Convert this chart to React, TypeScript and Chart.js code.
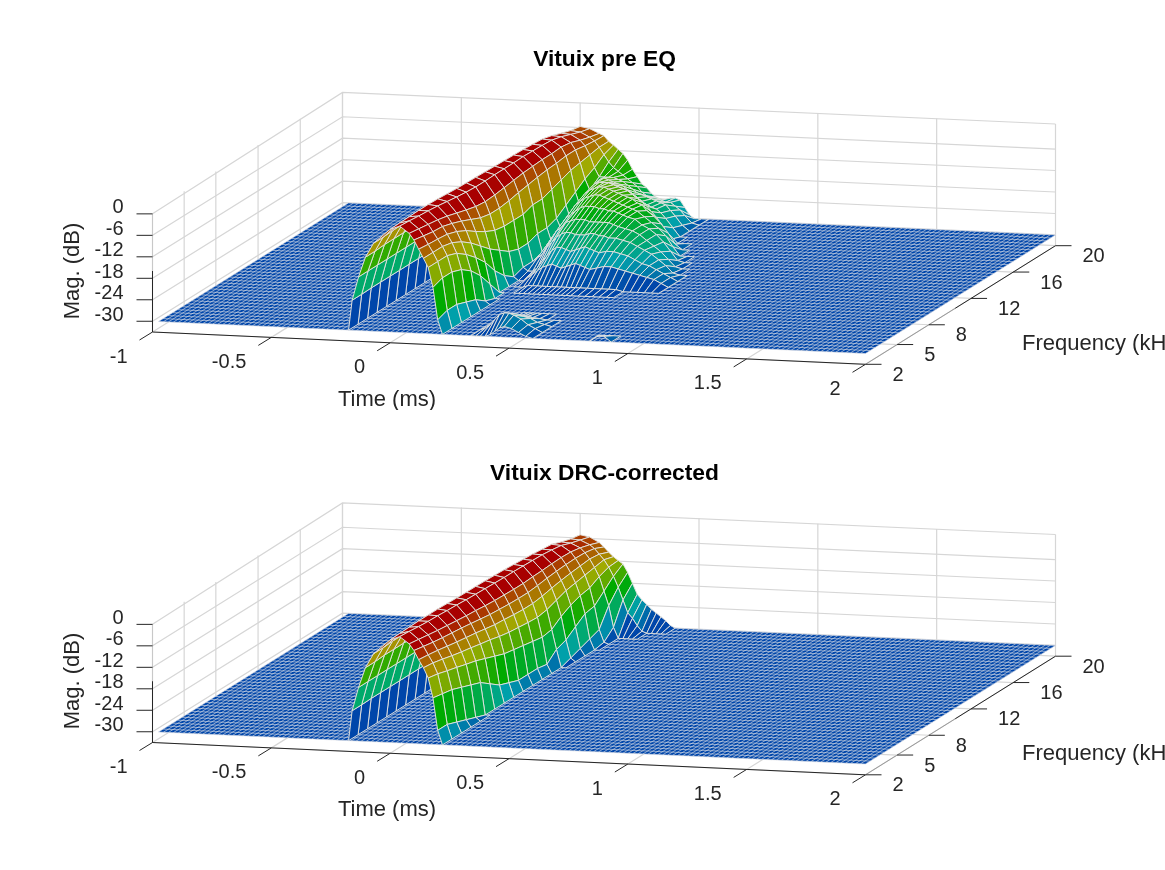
import React, { useEffect, useRef } from "react";
import { Chart, registerables } from "chart.js";

Chart.register(...registerables);

const timeTicks = [-1, -0.5, 0, 0.5, 1, 1.5, 2];
const freqTicks = [2, 5, 8, 12, 16, 20];
const magTicks = [0, -6, -12, -18, -24, -30];
const floorDb = -30;
const boxBottomDb = -33;

const tGrid = [-0.175, -0.16, -0.133, -0.104, -0.07, 0, 0.02, 0.04, 0.06, 0.08, 0.1, 0.12, 0.14, 0.16, 0.18, 0.2, 0.22, 0.24,
  0.26, 0.28, 0.3, 0.32, 0.34, 0.36, 0.38, 0.4, 0.42, 0.44, 0.46, 0.48, 0.51, 0.54, 0.57, 0.6, 0.63, 0.66, 0.69, 0.72, 0.75, 0.78, 0.81, 0.84, 0.87, 0.9, 0.93, 0.96];
const fGrid = [2, 2.9, 3.8, 4.7, 5.6, 6.5, 7.4, 8.3, 9.2, 10.1, 11, 11.9, 12.8, 13.7, 14.6, 15.5, 16.4, 17.3, 18.2, 19.1, 20];
// The mesh is coarser across the crest than on the flanks: these tGrid columns carry no mesh line.
const unmeshedTimes = [0.02, 0.06];

// Rows follow fGrid, columns follow tGrid; a row that stops early sits on the -30 dB floor afterwards.
const preEqDb = [
  [-30,-21.6,-15,-9.4,-5.4,-1.3,-.3,-.3,-.8,-2.2,-4,-6.5,-9,-11.5,-17,-26,-30,-30,-30,-30,-30,-30,-30,-30,-30,-30,-29.5,-28.5,-27.5,-27,-27.5,-28.5,-29.5,-30,-30,-30,-30,-30,-30,-30,-30,-30,-28.5,-28.5,-30,-30],
  [-30,-21.6,-15,-9.4,-5.4,-1.2,-.3,-.5,-1.2,-2.6,-4.5,-6.8,-9,-11.5,-16,-25,-30,-30,-30,-30,-30,-30,-30,-29.5,-28.5,-27,-25.5,-25,-25,-25.5,-26.5,-28,-29,-30],
  [-30,-21.5,-15,-9.2,-5.2,-1.1,-.4,-.8,-1.6,-3,-5,-7,-9,-11.5,-16,-25,-30,-30,-30,-30,-30,-30,-30,-30,-29.5,-28.5,-27.5,-27,-27,-27.5,-28,-29,-29.5,-30],
  [-30,-21.5,-15,-9.2,-5.2,-1,-.5,-1,-2,-3.4,-5.2,-7.3,-9.6,-12.5,-17,-26,-30,-30,-30,-30,-30,-30,-30,-30,-30,-30,-29.5,-29.2,-29.2,-29.5,-29.7,-30],
  [-30,-21.5,-15,-9.2,-5.2,-1,-.7,-1.3,-2.4,-4,-6,-8.2,-11,-14.5,-19,-27,-30],
  [-30,-21.5,-15,-9.2,-5.2,-1.1,-1,-1.7,-2.9,-4.8,-7,-9.6,-13,-17,-22,-29,-30],
  [-30,-21.5,-15,-9.2,-5.2,-1.3,-1.3,-2.1,-3.5,-5.6,-8.2,-11.5,-15.5,-20,-26,-30],
  [-30,-21.5,-15,-9.4,-5.4,-1.5,-1.6,-2.4,-4,-6.3,-9.4,-13.2,-18,-24,-30],
  [-30,-21.5,-15,-9.4,-5.4,-1.6,-1.8,-2.6,-4.2,-6.6,-10,-14.5,-20,-27,-30,-30,-30,-30,-29.5,-29.5,-29.5,-29.5,-29.5,-29.5,-29.5,-29.5,-29.5,-29.5,-29.5,-29.5,-29.5,-29.5,-29.5,-29.5,-29.5,-30],
  [-30,-21.5,-15,-9.6,-5.6,-1.7,-1.8,-2.6,-4,-6.4,-10,-15,-22,-29,-30,-30,-29,-28,-27,-26,-25.5,-25,-25.5,-26,-25.5,-25,-24.5,-25,-25.5,-26,-25.5,-25,-25,-25.5,-26,-26.5,-27,-27.5,-28,-29,-30],
  [-30,-21.5,-15,-9.6,-5.6,-1.8,-1.8,-2.5,-3.8,-6,-9.6,-15,-23,-28,-29,-29,-28,-26,-24.5,-23,-22,-22,-22.5,-23,-22.5,-22,-21.5,-22,-22.5,-23,-22.5,-22.5,-23,-23.5,-24.5,-25.5,-26,-27,-28,-29,-30],
  [-30,-21.5,-15,-9.6,-5.8,-1.9,-1.9,-2.5,-3.6,-5.6,-9,-15,-23,-28,-27,-26,-24,-22.5,-21,-20,-19.5,-19.5,-20,-20,-20,-19.5,-19.5,-20,-20,-20.5,-20.5,-21,-21.5,-22.5,-23.5,-24.5,-26,-27.5,-29.5,-30],
  [-30,-21.5,-15,-9.8,-5.8,-2,-2,-2.5,-3.5,-5.2,-8.5,-14,-22,-27,-25,-23,-21,-20,-18.5,-18,-17.5,-17.5,-17.5,-18,-18,-18,-18,-18,-18.5,-19,-19.5,-20,-21,-22.5,-24,-25.5,-27.5,-29.5,-30],
  [-30,-21.5,-15,-9.8,-6,-2.1,-2,-2.4,-3.3,-5,-8,-14,-22,-26,-23,-21,-19,-18,-17,-16,-15.5,-15.5,-15.5,-16,-16,-16.5,-16.5,-17,-17.5,-18,-18.5,-20,-21,-22.5,-24.5,-27,-29.5,-30],
  [-30,-21.5,-15.5,-10,-6,-2.2,-2.1,-2.5,-3.2,-4.8,-7.6,-13,-21,-24,-21,-19,-17,-16,-15,-14.5,-14,-14,-14.5,-15,-15.5,-16,-16.5,-17,-17.5,-18,-19.5,-21,-22.5,-24.5,-27.5,-30],
  [-30,-22,-16,-10.5,-6.5,-2.4,-2.2,-2.6,-3.3,-4.8,-7.4,-12,-19,-23,-20,-17.5,-15.5,-14.5,-14,-13.5,-13.5,-14,-14.5,-15,-15.5,-16,-16.5,-17.5,-18,-19.5,-21,-23,-25.5,-28.5,-30],
  [-30,-22,-16.5,-11,-7,-2.6,-2.4,-2.8,-3.4,-4.6,-7,-11,-17,-21,-18,-16,-14.5,-14,-14,-14,-14.5,-15,-15.5,-16,-17,-18,-19,-20,-21.5,-23,-25.5,-29,-30],
  [-30,-22,-16.5,-11.5,-7.5,-3.3,-3.2,-3.5,-4,-5,-7,-10.5,-15,-18,-16.5,-15,-14.5,-15,-15.5,-16,-16.5,-17.5,-18.5,-19.5,-20.5,-21.5,-22,-22.5,-23.5,-25,-27.5,-30],
  [-30,-22.5,-17,-12,-8,-4.3,-4.2,-4.5,-5,-6,-7.5,-10,-13.5,-16,-16,-16,-16,-16.5,-17,-18,-19,-20,-20.5,-21,-21.5,-22,-22.5,-23,-24.5,-26,-28.5,-30],
  [-30,-22.5,-17,-12,-8.5,-5.2,-5.2,-5.5,-6,-6.8,-7.8,-9.5,-11.5,-13.5,-15,-16,-17,-18,-19,-20,-21.5,-22.5,-23,-23,-23.5,-24,-24,-25,-26,-27.5,-29.5,-30],
  [-30,-22.5,-17,-12.5,-9,-5.7,-5.8,-6.2,-6.8,-7.4,-8,-9.5,-10.5,-11.6,-12.7,-14.5,-17,-19,-21,-22,-23.5,-24.5,-25,-25,-24.6,-24.5,-25,-27,-29,-30],
];

const drcDb = [
  [-30,-21.6,-15,-9.4,-5.4,-1.3,-.3,-.3,-.8,-2.2,-4,-6.5,-8.7,-11.5,-17,-26,-30],
  [-30,-21.6,-15,-9.4,-5.4,-1.2,-.3,-.5,-1.2,-2.6,-4.5,-6.8,-9,-12,-17.5,-26,-30],
  [-30,-21.5,-15,-9.2,-5.2,-1.1,-.4,-.8,-1.6,-3,-5,-7.2,-9.6,-12.8,-18,-27,-30],
  [-30,-21.5,-15,-9.2,-5.2,-1,-.5,-1,-1.9,-3.4,-5.4,-7.7,-10.3,-13.5,-19,-28,-30],
  [-30,-21.5,-15,-9.2,-5.2,-1,-.6,-1.1,-2.1,-3.7,-5.7,-8.2,-10.9,-14.3,-20,-29,-30],
  [-30,-21.5,-15,-9.2,-5.2,-1,-.7,-1.3,-2.3,-4,-6,-8.6,-11.4,-15,-21,-30],
  [-30,-21.5,-15,-9.2,-5.2,-1.1,-.9,-1.4,-2.5,-4.3,-6.4,-9,-12,-16,-23,-30],
  [-30,-21.5,-15,-9.2,-5.2,-1.2,-1,-1.6,-2.7,-4.5,-6.8,-9.5,-12.5,-17,-25,-30],
  [-30,-21.5,-15,-9.4,-5.4,-1.3,-1.1,-1.7,-2.9,-4.8,-7.2,-10,-13.2,-18,-26,-30],
  [-30,-21.5,-15,-9.4,-5.4,-1.3,-1.2,-1.8,-3,-5,-7.4,-10.2,-13.7,-18.5,-27,-30],
  [-30,-21.5,-15,-9.4,-5.4,-1.4,-1.3,-1.9,-3.1,-5.1,-7.6,-10.5,-14,-19,-27,-30],
  [-30,-21.5,-15,-9.4,-5.6,-1.5,-1.4,-2,-3.2,-5.2,-7.7,-10.7,-14.3,-19.5,-27,-30],
  [-30,-21.5,-15,-9.6,-5.6,-1.6,-1.5,-2,-3.2,-5.2,-7.7,-10.7,-14.5,-20,-27.5,-30],
  [-30,-21.5,-15,-9.6,-5.8,-1.8,-1.6,-2.1,-3.2,-5,-7.4,-10.3,-14,-19.5,-25,-30],
  [-30,-21.5,-15.5,-10,-6,-2,-1.8,-2.2,-3.2,-4.9,-7,-9.7,-13,-17.5,-24,-29,-30],
  [-30,-22,-16,-10.5,-6.5,-2.2,-2,-2.3,-3.2,-4.7,-6.7,-9.2,-12,-16,-22,-28,-30],
  [-30,-22,-16.5,-11,-7,-2.5,-2.3,-2.6,-3.3,-4.6,-6.5,-8.8,-11.5,-15,-20,-27,-30],
  [-30,-22,-16.5,-11.5,-7.5,-2.8,-2.7,-3,-3.6,-4.7,-6.4,-8.5,-11,-14.5,-19.5,-26,-29.5,-30],
  [-30,-22.5,-17,-12,-8,-3.8,-3.7,-4,-4.5,-5.2,-6.5,-8.2,-10.5,-13,-17,-21,-27,-30],
  [-30,-22.5,-17,-12,-8.5,-4.6,-4.5,-4.8,-5.3,-6,-7,-8.5,-10,-12,-14.5,-17.5,-21,-24.5,-26,-28,-29.5,-30],
  [-30,-22.5,-17,-12.5,-9,-5.1,-5.2,-5.6,-6.2,-7,-8.2,-9.6,-10.8,-11.8,-12.7,-15,-18,-21,-22.5,-23.7,-25,-26,-27,-28,-29.3,-30],
];

const colorStopsDb = [-30, -25, -21.5, -17, -13.5, -10.5, -8, -5, -2.5];
const colorStops = [[0,70,170],[0,160,170],[0,170,105],[0,170,0],[85,170,0],[160,170,0],[170,125,0],[170,70,0],[168,0,0]];

const FONT = "'Liberation Sans', Arial, sans-serif";
const TEXT = "#262626";
const GRID = "#d6d6d6";
const WIDTH = 1165;
const PAD_LEFT = 44;

function colorFor(db: number) {
  const v = Math.max(colorStopsDb[0], Math.min(colorStopsDb[colorStopsDb.length - 1], db));
  let k = 0;
  while (k < colorStopsDb.length - 2 && v > colorStopsDb[k + 1]) k++;
  const a = (v - colorStopsDb[k]) / (colorStopsDb[k + 1] - colorStopsDb[k]);
  const c = colorStops[k].map((s, n) => Math.round(s + (colorStops[k + 1][n] - s) * a));
  return `rgb(${c[0]},${c[1]},${c[2]})`;
}

type Pt = { x: number; y: number };

function makeProjector(originY: number) {
  const pxPerMs = 713 / 3;
  const riseNyPerMs = 32.3 / 3;
  const pxPerKhz = 190 / 18;
  const liftPerKhz = 118.6 / 18;
  const pxPerDb = 3.58;
  return (t: number, f: number, db: number): Pt => ({
    x: 152.5 + (t + 1) * pxPerMs + (f - 2) * pxPerKhz,
    y: originY + (t + 1) * riseNyPerMs - (f - 2) * liftPerKhz - (db - boxBottomDb) * pxPerDb,
  });
}

function lineSet(points: Pt[], color: string, width: number) {
  return { data: points, borderColor: color, borderWidth: width, pointRadius: 0, showLine: true, fill: false, tension: 0, borderCapStyle: "butt" };
}

function buildDatasets(rows: number[][], p: (t: number, f: number, db: number) => Pt) {
  const tMin = timeTicks[0];
  const tMax = timeTicks[timeTicks.length - 1];
  const fMin = freqTicks[0];
  const fMax = freqTicks[freqTicks.length - 1];
  const back: any[] = [];

  // walls and floor grid
  for (const m of magTicks.slice(1)) {
    back.push(lineSet([p(tMin, fMin, m), p(tMin, fMax, m), p(tMax, fMax, m)], GRID, 1.2));
  }
  back.push(lineSet([p(tMin, fMin, 0), p(tMin, fMax, 0.8), p(tMax, fMax, 1)], GRID, 1.2));
  for (const f of freqTicks) {
    back.push(lineSet([p(tMax, f, boxBottomDb), p(tMin, f, boxBottomDb), p(tMin, f, f === fMin ? 0 : 0.8)], GRID, 1.2));
  }
  for (const t of timeTicks) {
    back.push(lineSet([p(t, fMin, boxBottomDb), p(t, fMax, boxBottomDb), p(t, fMax, t === tMin ? 0.8 : 1)], GRID, 1.2));
  }

  // floor sheet and mesh
  const sheetT0 = -0.975;
  back.push({
    data: [p(sheetT0, fMin, floorDb), p(tMax, fMin, floorDb), p(tMax, fMax, floorDb), p(sheetT0, fMax, floorDb), p(sheetT0, fMin, floorDb)],
    backgroundColor: colorFor(floorDb), borderColor: colorFor(floorDb), borderWidth: 0, pointRadius: 0, showLine: true, fill: "shape", tension: 0,
  });
  const mesh: Pt[] = [];
  const gap = { x: NaN, y: NaN };
  for (let t = sheetT0; t <= tMax + 1e-6; t += 0.0208) {
    mesh.push(p(t, fMin, floorDb), p(t, fMax, floorDb), gap);
  }
  for (let f = fMin; f <= fMax + 1e-6; f += 0.45) {
    mesh.push(p(sheetT0, f, floorDb), p(tMax, f, floorDb), gap);
  }
  back.push(lineSet(mesh, "rgba(218,222,230,0.75)", 0.85));

  // surface cells, far rows first, early times first
  const cols = tGrid.map((t, i) => i).filter((i) => !unmeshedTimes.includes(tGrid[i]));
  const grid = fGrid.map((_, j) => cols.map((i) => (rows[j][i] === undefined ? floorDb : rows[j][i])));
  const times = cols.map((i) => tGrid[i]);
  for (let j = fGrid.length - 2; j >= 0; j--) {
    for (let i = 0; i < times.length - 1; i++) {
      const a = grid[j][i], b = grid[j][i + 1], c = grid[j + 1][i + 1], d = grid[j + 1][i];
      if (Math.max(a, b, c, d) <= floorDb) continue;
      back.push({
        data: [p(times[i], fGrid[j], a), p(times[i + 1], fGrid[j], b), p(times[i + 1], fGrid[j + 1], c), p(times[i], fGrid[j + 1], d), p(times[i], fGrid[j], a)],
        backgroundColor: colorFor(a), borderColor: "rgba(226,226,222,0.95)", borderWidth: 1,
        pointRadius: 0, showLine: true, fill: "shape", tension: 0, borderJoinStyle: "bevel",
      });
    }
  }

  // axes and tick marks on top
  const tickDx = -13, tickDy = 8, tickLen = 16;
  const off = (q: Pt, dx: number, dy: number): Pt => ({ x: q.x + dx, y: q.y + dy });
  back.push(lineSet([p(tMin, fMin, boxBottomDb), p(tMax, fMin, boxBottomDb)], TEXT, 1));
  back.push(lineSet([p(tMax, fMin, boxBottomDb), p(tMax, 10.5, boxBottomDb)], "#9a9a9a", 1));
  back.push(lineSet([p(tMax, 10.5, boxBottomDb), p(tMax, fMax, boxBottomDb)], TEXT, 1));
  back.push(lineSet([p(tMin, fMin, 0), p(tMin, fMin, -16)], "#c8c8c8", 1));
  back.push(lineSet([p(tMin, fMin, -16), p(tMin, fMin, boxBottomDb)], TEXT, 1));
  for (const t of timeTicks) {
    const q = p(t, fMin, boxBottomDb);
    back.push(lineSet([q, off(q, tickDx, tickDy)], TEXT, 1));
  }
  for (const f of freqTicks) {
    const q = p(tMax, f, boxBottomDb);
    back.push(lineSet([q, off(q, tickLen, 0)], TEXT, 1));
  }
  for (const m of magTicks) {
    const q = p(tMin, fMin, m);
    back.push(lineSet([off(q, -tickLen, 0), q], TEXT, 1));
  }
  return back.reverse();
}

function labelsPlugin(p: (t: number, f: number, db: number) => Pt) {
  return {
    id: "axisText",
    afterDraw(chart: any) {
      const ctx = chart.ctx;
      const sx = chart.scales.x, sy = chart.scales.y;
      const px = (v: number) => sx.getPixelForValue(v);
      const py = (v: number) => sy.getPixelForValue(v);
      ctx.save();
      ctx.fillStyle = TEXT;
      ctx.textBaseline = "middle";
      ctx.font = `20px ${FONT}`;
      ctx.textAlign = "right";
      for (const t of timeTicks) {
        const q = p(t, freqTicks[0], boxBottomDb);
        ctx.fillText(String(t), px(q.x - 25), py(q.y + 25));
      }
      for (const m of magTicks) {
        const q = p(timeTicks[0], freqTicks[0], m);
        ctx.fillText(String(m), px(q.x - 29), py(q.y - 6));
      }
      ctx.textAlign = "left";
      for (const f of freqTicks) {
        const q = p(timeTicks[timeTicks.length - 1], f, boxBottomDb);
        ctx.fillText(String(f), px(q.x + 27), py(q.y + 11));
      }
      ctx.font = `22px ${FONT}`;
      ctx.fillText("Frequency (kHz)", px(1022), py(344));
      ctx.textAlign = "center";
      ctx.fillText("Time (ms)", px(387), py(400));
      ctx.translate(px(72.5), py(271));
      ctx.rotate(-Math.PI / 2);
      ctx.fillText("Mag. (dB)", 0, 0);
      ctx.restore();
    },
  };
}

function makeChart(canvas: HTMLCanvasElement, title: string, rows: number[][], originY: number, height: number, titleTop: number) {
  const titleSize = 22.8;
  const titleH = titleTop + titleSize * 1.2;
  const p = makeProjector(originY);
  return new Chart(canvas, {
    type: "scatter",
    data: { datasets: buildDatasets(rows, p) as any },
    plugins: [labelsPlugin(p) as any],
    options: {
      responsive: false,
      animation: false,
      devicePixelRatio: 1,
      events: [],
      layout: { padding: { left: PAD_LEFT, right: 0, top: 0, bottom: 0 } },
      scales: {
        x: { type: "linear", display: false, min: PAD_LEFT, max: WIDTH },
        y: { type: "linear", display: false, reverse: true, min: titleH, max: height },
      },
      plugins: {
        legend: { display: false },
        tooltip: { enabled: false },
        filler: { propagate: false },
        title: {
          display: true,
          text: title,
          color: "#000000",
          font: { family: FONT, size: titleSize, weight: "bold", lineHeight: 1.2 },
          padding: { top: titleTop, bottom: 0 },
        },
      },
    } as any,
  });
}

export default function App() {
  const topRef = useRef<HTMLCanvasElement>(null);
  const bottomRef = useRef<HTMLCanvasElement>(null);
  useEffect(() => {
    const a = makeChart(topRef.current!, "Vituix pre EQ", preEqDb, 332, 410, 46.5);
    const b = makeChart(bottomRef.current!, "Vituix DRC-corrected", drcDb, 332.5, 460, 50.5);
    return () => { a.destroy(); b.destroy(); };
  }, []);
  return (
    <div style={{ position: "absolute", left: 0, top: 0, width: 1165, height: 870, overflow: "hidden", background: "#fff" }}>
      <canvas ref={topRef} width={1165} height={410} style={{ position: "absolute", left: 0, top: 0, width: 1165, height: 410 }} />
      <canvas ref={bottomRef} width={1165} height={460} style={{ position: "absolute", left: 0, top: 410, width: 1165, height: 460 }} />
    </div>
  );
}
